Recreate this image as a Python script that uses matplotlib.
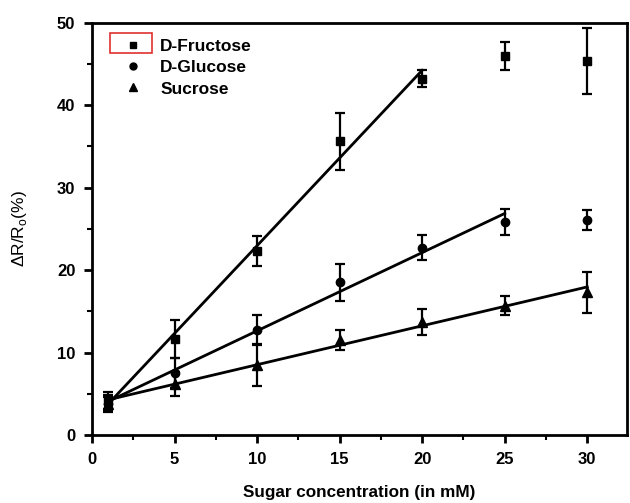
import matplotlib
matplotlib.use("Agg")
import matplotlib.pyplot as plt
from matplotlib.patches import Rectangle
from matplotlib.lines import Line2D
import numpy as np

plt.rcParams['font.family'] = ['Liberation Sans', 'DejaVu Sans']

# concentrations (mM)
conc = np.array([1, 5, 10, 15, 20, 25, 30])

# D-Fructose
fru = np.array([4.2, 11.6, 22.3, 35.6, 43.2, 46.0, 45.3])
fru_err = np.array([1.0, 2.3, 1.8, 3.5, 1.0, 1.7, 4.0])
# D-Glucose
glu = np.array([3.8, 7.5, 12.7, 18.5, 22.7, 25.8, 26.1])
glu_err = np.array([0.8, 1.8, 1.8, 2.2, 1.5, 1.6, 1.2])
# Sucrose
suc = np.array([3.8, 6.2, 8.5, 11.5, 13.7, 15.7, 17.3])
suc_err = np.array([1.0, 1.5, 2.5, 1.2, 1.6, 1.2, 2.5])

# how many points each linear fit uses
fit_n = {'D-Fructose': 5, 'D-Glucose': 6, 'Sucrose': 7}

fig = plt.figure(figsize=(6.3, 5.03), dpi=100)
ax = fig.add_axes([0.146, 0.135, 0.849, 0.82])

series = [('D-Fructose', fru, fru_err, 's', 6),
          ('D-Glucose', glu, glu_err, 'o', 6),
          ('Sucrose', suc, suc_err, '^', 6.5)]

handles = []
for name, y, err, mk, ms in series:
    ax.errorbar(conc, y, yerr=err, fmt=mk, color='black', ms=ms,
                capsize=3.5, elinewidth=1.6, capthick=1.6)
    n = fit_n[name]
    k, b = np.polyfit(conc[:n], y[:n], 1)
    xx = np.array([conc[0], conc[n - 1]])
    ax.plot(xx, k * xx + b, color='black', lw=2)
    handles.append(Line2D([], [], ls='none', marker=mk, color='black',
                          ms=ms - 1, label=name))

ax.set_xlim(0, 32.4)
ax.set_ylim(0, 50)
ax.set_xticks(np.arange(0, 31, 5))
ax.set_xticks(np.arange(2.5, 31, 5), minor=True)
ax.set_yticks(np.arange(0, 51, 10))
ax.set_yticks(np.arange(5, 50, 10), minor=True)
ax.tick_params(which='major', direction='out', length=6, width=2, labelsize=12, pad=6)
ax.tick_params(which='minor', direction='out', length=3.5, width=1.5)
for lab in ax.get_xticklabels() + ax.get_yticklabels():
    lab.set_fontweight('bold')
for sp in ax.spines.values():
    sp.set_linewidth(2)

ax.set_xlabel('Sugar concentration (in mM)', fontsize=12.3, fontweight='bold', labelpad=13)
ax.set_ylabel(r'ΔR/R$_\mathregular{o}$(%)', fontsize=12.5, labelpad=20)

ax.legend(handles=handles, loc='upper left', bbox_to_anchor=(0.03, 0.99),
          frameon=False, prop={'weight': 'bold', 'size': 12.5},
          handletextpad=0.8, borderaxespad=0.3, labelspacing=0.35, handlelength=1.5)

# red selection box around the first legend symbol
ax.add_patch(Rectangle((0.034, 0.926), 0.0785, 0.049, transform=ax.transAxes,
                       fill=False, edgecolor='#e03030', lw=1.2, clip_on=False))

fig.savefig('out.png', dpi=100)
